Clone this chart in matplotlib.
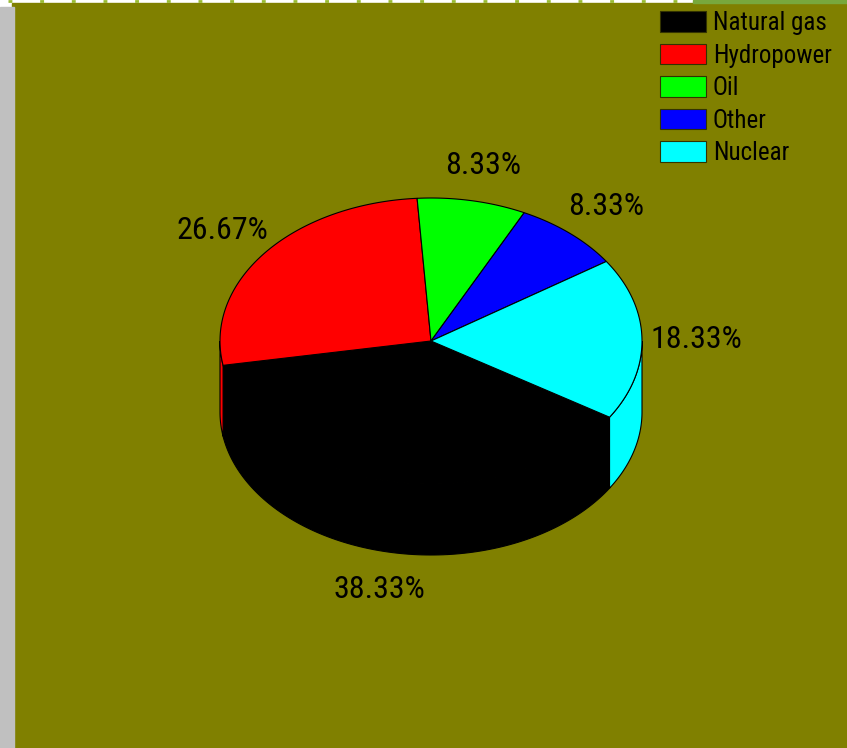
import numpy as np
import matplotlib.pyplot as plt
from matplotlib.patches import Polygon, Rectangle, Patch

labels = ['Natural gas', 'Hydropower', 'Oil', 'Other', 'Nuclear']
values = [38.33, 26.67, 8.33, 8.33, 18.33]
colors = ['#000000', '#ff0000', '#00ff00', '#0000ff', '#00ffff']

FONT = ['Roboto Condensed', 'Liberation Sans', 'DejaVu Sans']

# pie geometry in pixels
cx, cy = 431, 341
rx, ry = 211, 143
depth = 71
start = -32.2   # first slice starts here and slices run clockwise


def rim(t, drop=0):
    t = np.radians(t)
    return np.column_stack([cx + rx * np.cos(t), cy - ry * np.sin(t) + drop])


fig = plt.figure(figsize=(8.47, 7.48), dpi=100, facecolor='white')
ax = fig.add_axes([0, 0, 1, 1])
ax.set_xlim(0, 847)
ax.set_ylim(748, 0)
ax.axis('off')

# frame: olive plot area, grey strip on the left, dotted rule on top
ax.add_patch(Rectangle((12, 2.5), 835, 746, color='#808000', zorder=0))
ax.add_patch(Rectangle((0, 7), 14, 741, color='#c0c0c0', zorder=0))
ax.add_patch(Rectangle((693, 0), 154, 2.5, color='#78a83c', zorder=0))
ax.plot([8, 693], [1, 1], color='#99bb33', lw=2, ls=(0, (1.4, 10)), zorder=0)

total = sum(values)
angles = [start]
for v in values:
    angles.append(angles[-1] - v / total * 360)

# side walls: only the front half (lower half of the ellipse) is visible
for i, c in enumerate(colors):
    a0, a1 = angles[i], angles[i + 1]
    for k in range(-2, 2):
        lo, hi = max(a1, -180 + 360 * k), min(a0, 360 * k)
        if lo < hi:
            t = np.linspace(lo, hi, 120)
            pts = np.vstack([rim(t), rim(t[::-1], depth)])
            ax.add_patch(Polygon(pts, closed=True, facecolor=c,
                                 edgecolor='black', lw=0.8, zorder=2))

# top faces
for i, c in enumerate(colors):
    t = np.linspace(angles[i], angles[i + 1], 200)
    pts = np.vstack([[cx, cy], rim(t)])
    ax.add_patch(Polygon(pts, closed=True, facecolor=c,
                         edgecolor='black', lw=0.8, zorder=3))

# percentage labels just outside the rim
for i, v in enumerate(values):
    m = np.radians((angles[i] + angles[i + 1]) / 2)
    x = cx + 1.26 * rx * np.cos(m)
    y = cy - 1.26 * ry * np.sin(m) - 2
    if np.sin(m) < 0:
        y += depth
    ax.text(x, y, f'{v:.2f}%', ha='center', va='center_baseline',
            fontsize=23, family=FONT, color='black', zorder=4)

handles = [Patch(facecolor=c, edgecolor='#333300', lw=0.8) for c in colors]
leg = ax.legend(handles, labels, loc='upper left',
                bbox_to_anchor=(660, 11), bbox_transform=ax.transData,
                frameon=False, borderpad=0, borderaxespad=0,
                handlelength=1.84, handleheight=0.88, handletextpad=0.28,
                labelspacing=0.34, prop={'family': FONT, 'size': 18})

fig.savefig('out.png', dpi=100, facecolor='white')
